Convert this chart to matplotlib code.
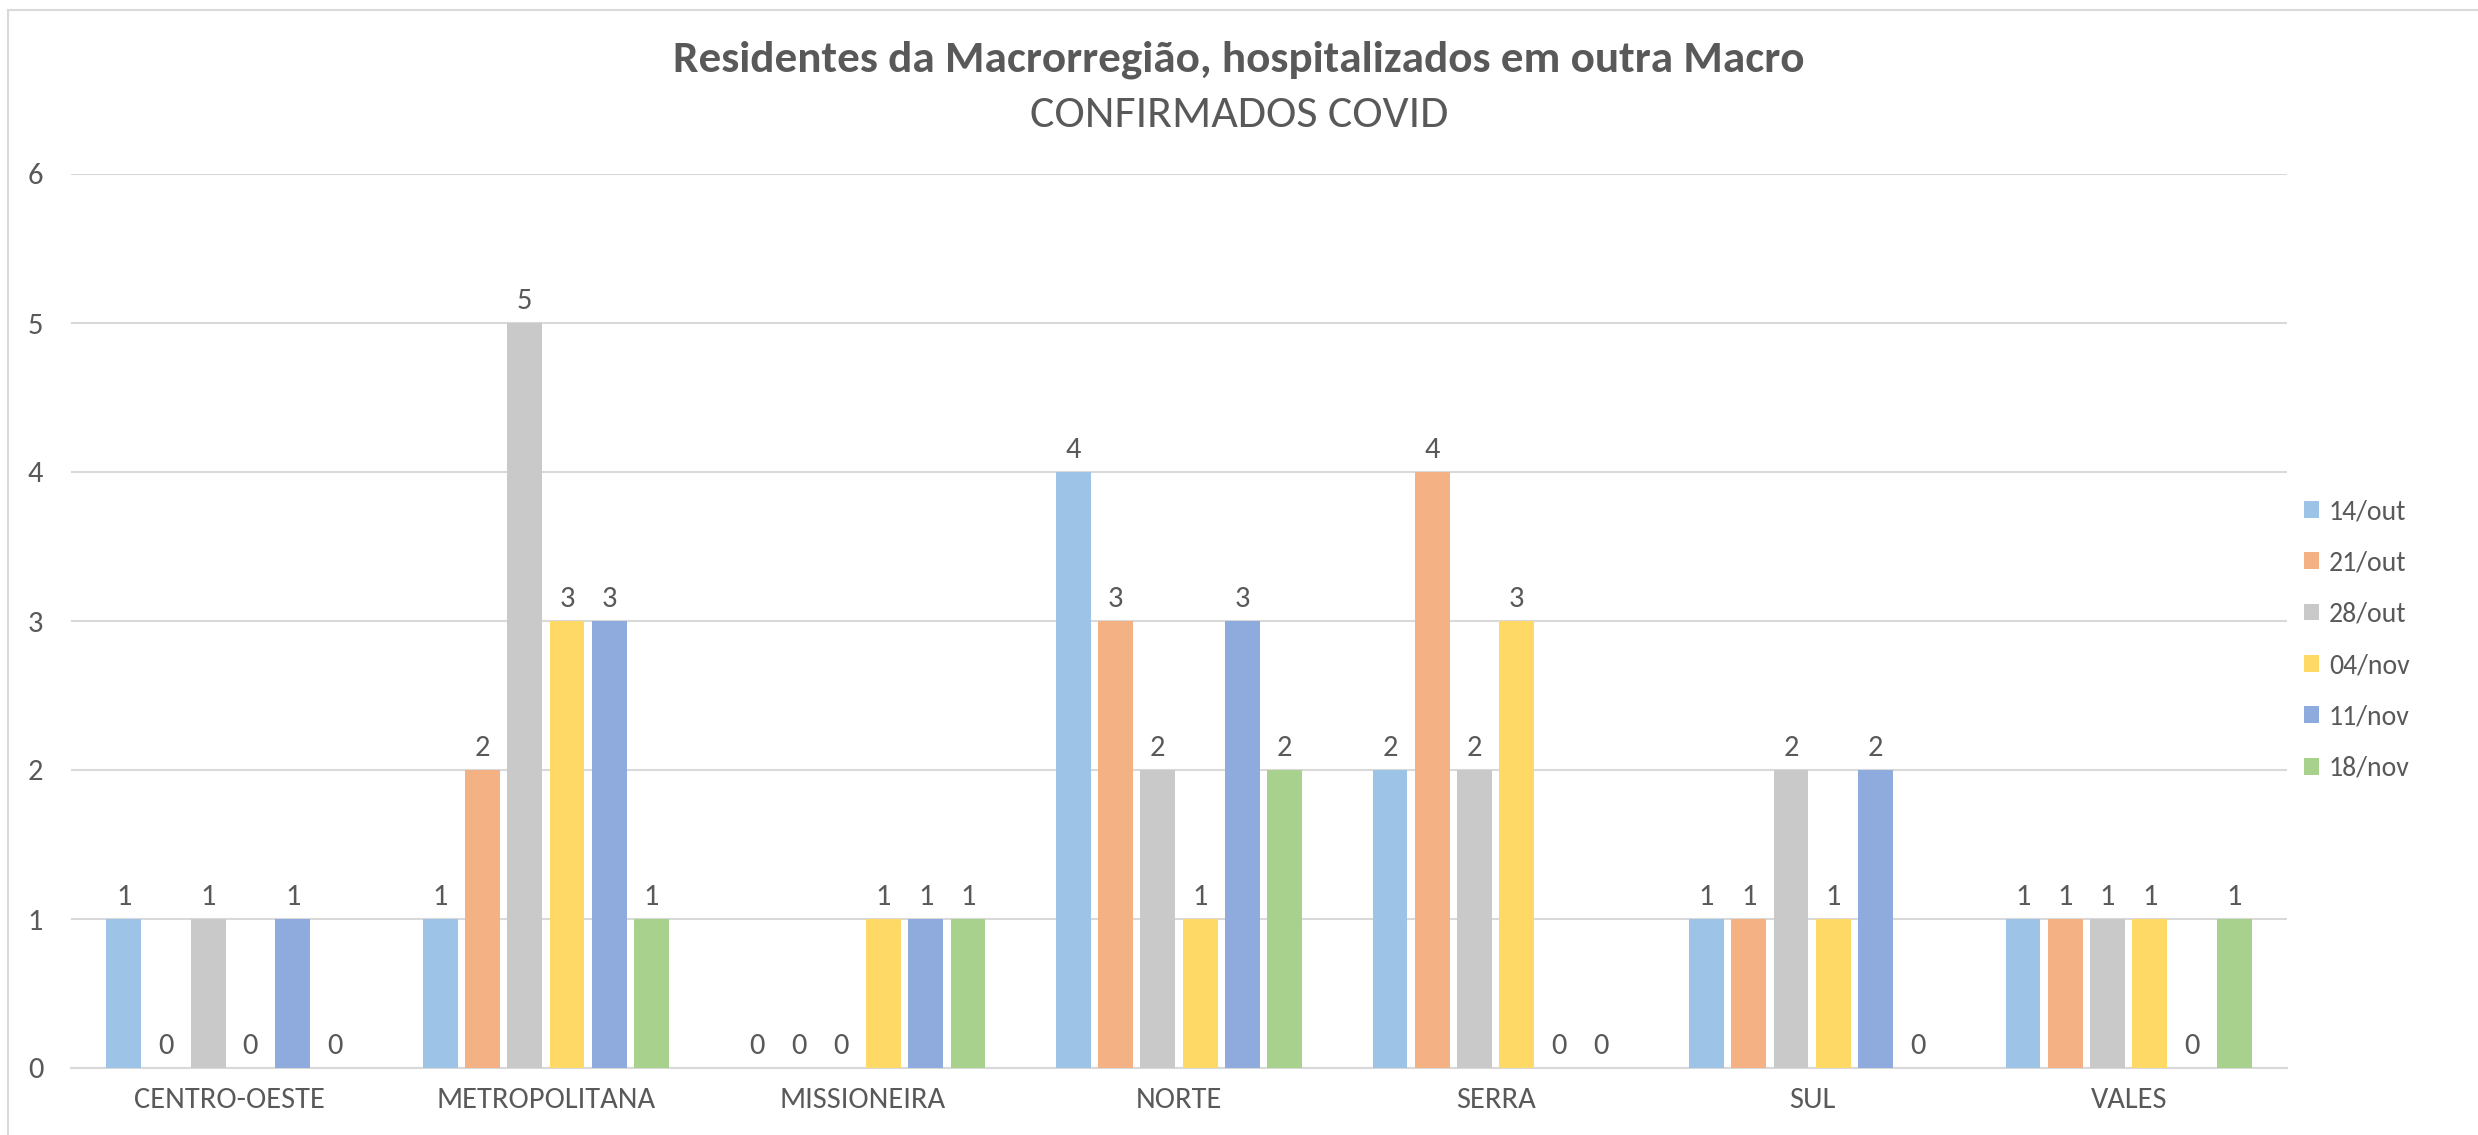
import matplotlib
matplotlib.use("Agg")
import matplotlib.pyplot as plt
from matplotlib.patches import Rectangle
from matplotlib import font_manager
import numpy as np

categories = ["CENTRO-OESTE", "METROPOLITANA", "MISSIONEIRA", "NORTE", "SERRA", "SUL", "VALES"]
series_names = ["14/out", "21/out", "28/out", "04/nov", "11/nov", "18/nov"]
s_14out = [1, 1, 0, 4, 2, 1, 1]
s_21out = [0, 2, 0, 3, 4, 1, 1]
s_28out = [1, 5, 0, 2, 2, 2, 1]
s_04nov = [0, 3, 1, 1, 3, 1, 1]
s_11nov = [1, 3, 1, 3, 0, 2, 0]
s_18nov = [0, 1, 1, 2, 0, 0, 1]
series_values = [s_14out, s_21out, s_28out, s_04nov, s_11nov, s_18nov]
colors = ["#9DC3E6", "#F4B183", "#C9C9C9", "#FFD966", "#8FAADC", "#A9D18E"]

avail = {f.name for f in font_manager.fontManager.ttflist}
fam = [f for f in ["Carlito", "Liberation Sans Narrow", "Open Sans", "DejaVu Sans"] if f in avail]
plt.rcParams['font.family'] = fam
txt = "#595959"

W, H = 2478, 1135
fig = plt.figure(figsize=(W / 100, H / 100), dpi=100)
fig.patch.set_facecolor("white")
# chart frame (only top and left visible)
fig.patches.append(Rectangle((8 / W, -0.1), 1.2, (H - 10) / H + 0.1, transform=fig.transFigure,
                             fill=False, edgecolor="#D9D9D9", linewidth=1.5))

ax = fig.add_axes([71 / W, (H - 1068) / H, (2287 - 71) / W, (1068 - 174) / H])
x = np.arange(len(categories))
pitch = 0.1335
width = 0.11
for i, (name, vals, c) in enumerate(zip(series_names, series_values, colors)):
    off = (i - 2.5) * pitch
    bars = ax.bar(x + off, vals, width=width, color=c, label=name, zorder=3)
    for xi, v in zip(x + off, vals):
        ax.annotate(str(v), (xi, v), xytext=(0, 9), textcoords="offset pixels",
                    ha="center", va="bottom", fontsize=22, color=txt)

ax.set_xlim(-0.5, len(categories) - 0.5)
ax.set_ylim(0, 6)
ax.set_yticks(range(0, 7))
ax.yaxis.grid(True, color="#D9D9D9", linewidth=1.5, zorder=0)
ax.set_axisbelow(True)
for s in ["top", "right", "left"]:
    ax.spines[s].set_visible(False)
ax.spines["bottom"].set_color("#D9D9D9")
ax.spines["bottom"].set_linewidth(1.5)
ax.tick_params(axis="y", length=0, pad=20, labelsize=22, labelcolor=txt)
ax.tick_params(axis="x", length=0, pad=14, labelsize=22, labelcolor=txt)
ax.set_xticks(x)
ax.set_xticklabels(categories)

fig.text(0.5, 1 - 60 / H, "Residentes da Macrorregião, hospitalizados em outra Macro",
         ha="center", va="center", fontsize=32.5, fontweight="bold", color=txt)
fig.text(0.5, 1 - 115 / H, "CONFIRMADOS COVID", ha="center", va="center", fontsize=33, color=txt)

leg = ax.legend(loc="center left", bbox_to_anchor=(2279 / W, 1 - 640 / H), bbox_transform=fig.transFigure,
                frameon=False, fontsize=20, labelcolor=txt, handlelength=0.55, handleheight=0.55,
                handletextpad=0.35, labelspacing=0.95)

fig.savefig("out.png", dpi=100, facecolor="white")
print(fam)
